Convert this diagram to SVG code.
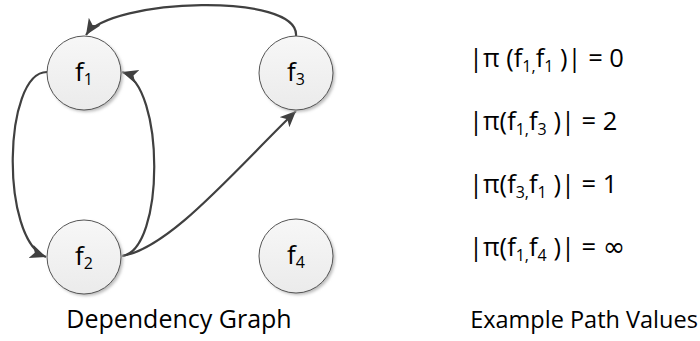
<svg xmlns="http://www.w3.org/2000/svg" width="700" height="341" viewBox="0 0 700 341">
  <style>
    text { font-family: "Open Sans", "Liberation Sans", sans-serif; fill: #000; }
    .lbl { font-size: 25.5px; }
    .node { font-size: 26px; text-anchor: middle; }
    .cap { font-size: 25px; text-anchor: middle; }
    .sub { font-size: 16px; }
    .inf { font-family: "DejaVu Sans", sans-serif; font-size: 27px; }
    .edge { fill: none; stroke: #404040; stroke-width: 2.2; }
    .circ { fill: url(#g); stroke: #555; stroke-width: 1; }
  </style>
  <defs>
    <linearGradient id="g" x1="0" y1="0" x2="0" y2="1">
      <stop offset="0" stop-color="#f7f7f7"/>
      <stop offset="1" stop-color="#ebebeb"/>
    </linearGradient>
    <filter id="sh" x="-30%" y="-30%" width="160%" height="160%">
      <feGaussianBlur stdDeviation="1.5"/>
    </filter>
    <marker id="arr" markerUnits="userSpaceOnUse" markerWidth="18" markerHeight="16" refX="16" refY="7" orient="auto">
      <path d="M0,0 L16,7 L0,14 L4,7 z" fill="#404040"/>
    </marker>
  </defs>

  <g id="connectors">
    <path class="edge" d="M296,36 C300,-8 110,-2 86,35" marker-end="url(#arr)"/>
    <path class="edge" d="M47,72 C3,72 0,240 46,257" marker-end="url(#arr)"/>
    <path class="edge" d="M122,256 C165,250 165,85 122,72" marker-end="url(#arr)"/>
    <path class="edge" d="M122,256 C170,248 235,170 296,111" marker-end="url(#arr)"/>
  </g>

  <g id="f1">
    <circle cx="86" cy="75" r="37" fill="#bbb" filter="url(#sh)"/>
    <circle class="circ" cx="84" cy="73" r="37"/>
    <text class="node" x="84" y="81">f<tspan class="sub" dy="4">1</tspan></text>
  </g>
  <g id="f2">
    <circle cx="86" cy="259" r="37" fill="#bbb" filter="url(#sh)"/>
    <circle class="circ" cx="84" cy="257" r="37"/>
    <text class="node" x="84" y="265">f<tspan class="sub" dy="4">2</tspan></text>
  </g>
  <g id="f3">
    <circle cx="298" cy="75" r="37" fill="#bbb" filter="url(#sh)"/>
    <circle class="circ" cx="296" cy="73" r="37"/>
    <text class="node" x="296" y="81">f<tspan class="sub" dy="4">3</tspan></text>
  </g>
  <g id="f4">
    <circle cx="298" cy="258" r="37" fill="#bbb" filter="url(#sh)"/>
    <circle class="circ" cx="296" cy="256" r="37"/>
    <text class="node" x="296" y="264">f<tspan class="sub" dy="4">4</tspan></text>
  </g>

  <g id="paths">
    <text class="lbl" x="469" y="67">|π (f<tspan class="sub" dy="5">1,</tspan><tspan dy="-5">f</tspan><tspan class="sub" dy="5">1</tspan><tspan dy="-5"> )| = 0</tspan></text>
    <text class="lbl" x="469" y="130">|π(f<tspan class="sub" dy="5">1,</tspan><tspan dy="-5">f</tspan><tspan class="sub" dy="5">3</tspan><tspan dy="-5"> )| = 2</tspan></text>
    <text class="lbl" x="469" y="193">|π(f<tspan class="sub" dy="5">3,</tspan><tspan dy="-5">f</tspan><tspan class="sub" dy="5">1</tspan><tspan dy="-5"> )| = 1</tspan></text>
    <text class="lbl" x="469" y="256">|π(f<tspan class="sub" dy="5">1,</tspan><tspan dy="-5">f</tspan><tspan class="sub" dy="5">4</tspan><tspan dy="-5"> )| = </tspan><tspan class="inf">∞</tspan></text>
  </g>

  <text class="cap" x="179" y="328">Dependency Graph</text>
  <text class="cap" x="584" y="328" font-size="23.5" style="font-size:23.5px">Example Path Values</text>
</svg>
